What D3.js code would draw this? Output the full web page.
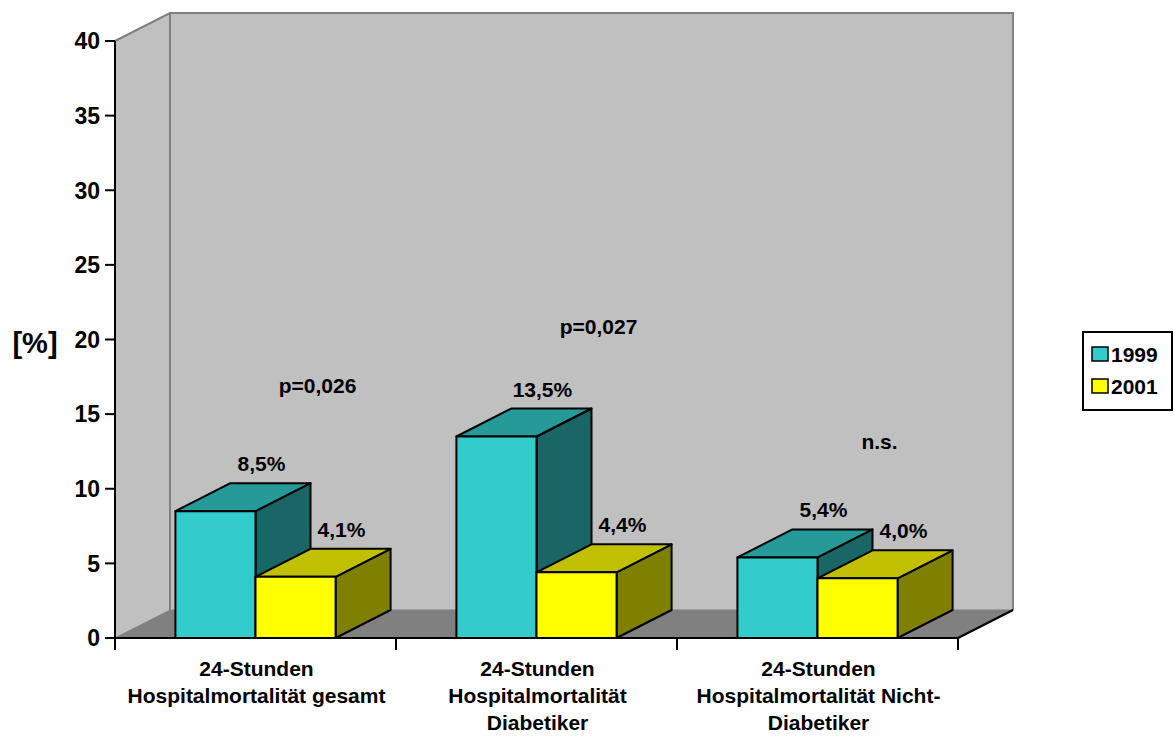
<!DOCTYPE html>
<html>
<head>
<meta charset="utf-8">
<script src="https://cdn.jsdelivr.net/npm/d3@7"></script>
<style>
  html, body { margin: 0; padding: 0; background: #ffffff; }
  svg { display: block; font-family: "Liberation Sans", Arial, sans-serif; }
</style>
</head>
<body>
<svg id="chart" width="1174" height="736"></svg>
<script>
// Categories (multi-line labels), series and values in percent
const categories = [
  ["24-Stunden", "Hospitalmortalität gesamt"],
  ["24-Stunden", "Hospitalmortalität", "Diabetiker"],
  ["24-Stunden", "Hospitalmortalität Nicht-", "Diabetiker"]
];
const series = ["1999", "2001"];
const values1999 = [8.5, 13.5, 5.4];
const values2001 = [4.1, 4.4, 4.0];
const yTicks = [0, 5, 10, 15, 20, 25, 30, 35, 40];
// Significance notes per category and the value-axis level they sit at
const pNotes = ["p=0,026", "p=0,027", "n.s."];
const pLevels = [16.4, 20.4, 12.65];

const seriesValues = [values1999, values2001];
const colors = {
  "1999": { front: "#33CCCC", top: "#269999", side: "#1A6666" },
  "2001": { front: "#FFFF00", top: "#C0C000", side: "#808000" }
};

const svg = d3.select("#chart");
const plotL = 115, plotR = 958, plotB = 638, plotT = 41;
const DX = 55, DY = -28; // depth offset of the 3D box

const y = d3.scaleLinear().domain([0, 40]).range([plotB, plotT]);
const x = d3.scaleBand().domain(d3.range(categories.length)).range([plotL, plotR]).padding(0);
const groupW = x.bandwidth() * 0.57;
const xs = d3.scaleBand().domain(series)
  .range([(x.bandwidth() - groupW) / 2, (x.bandwidth() + groupW) / 2]).padding(0);

const de = d3.formatLocale({ decimal: ",", thousands: ".", grouping: [3], currency: ["", " €"] });
const fmt = v => de.format(".1f")(v) + "%";
const pt = (px, py) => px + "," + py;

// Walls and floor
svg.append("polygon")
  .attr("points", [pt(plotL, y(0)), pt(plotL, y(40)), pt(plotL + DX, y(40) + DY), pt(plotL + DX, y(0) + DY)].join(" "))
  .attr("fill", "#C0C0C0");
svg.append("rect")
  .attr("x", plotL + DX).attr("y", y(40) + DY)
  .attr("width", plotR - plotL).attr("height", y(0) - y(40))
  .attr("fill", "#C0C0C0");
svg.append("polyline")
  .attr("points", [pt(plotL, y(40)), pt(plotL + DX, y(40) + DY), pt(plotR + DX, y(40) + DY), pt(plotR + DX, y(0) + DY)].join(" "))
  .attr("fill", "none").attr("stroke", "#808080").attr("stroke-width", 2);
svg.append("line")
  .attr("x1", plotL + DX).attr("y1", y(40) + DY).attr("x2", plotL + DX).attr("y2", y(0) + DY)
  .attr("stroke", "#808080").attr("stroke-width", 2);
svg.append("polygon")
  .attr("points", [pt(plotL, y(0)), pt(plotL + DX, y(0) + DY), pt(plotR + DX, y(0) + DY), pt(plotR, y(0))].join(" "))
  .attr("fill", "#808080").attr("stroke", "#808080").attr("stroke-width", 1);
svg.append("line")
  .attr("x1", plotR).attr("y1", y(0)).attr("x2", plotR + DX).attr("y2", y(0) + DY)
  .attr("stroke", "#000").attr("stroke-width", 2);

// 3D bars, drawn left to right so later fronts overlap earlier sides
const bars = [];
categories.forEach((c, i) => {
  series.forEach((s, j) => bars.push({ i, s, v: seriesValues[j][i] }));
});
const barG = svg.append("g");
bars.forEach(d => {
  const x0 = x(d.i) + xs(d.s), x1 = x0 + xs.bandwidth();
  const y0 = y(0), y1 = y(d.v);
  const g = barG.append("g").attr("stroke", "#000").attr("stroke-width", 2).attr("stroke-linejoin", "round");
  g.append("polygon").attr("fill", colors[d.s].side)
    .attr("points", [pt(x1, y0), pt(x1, y1), pt(x1 + DX, y1 + DY), pt(x1 + DX, y0 + DY)].join(" "));
  g.append("polygon").attr("fill", colors[d.s].top)
    .attr("points", [pt(x0, y1), pt(x0 + DX, y1 + DY), pt(x1 + DX, y1 + DY), pt(x1, y1)].join(" "));
  g.append("rect").attr("fill", colors[d.s].front)
    .attr("x", x0).attr("y", y1).attr("width", x1 - x0).attr("height", y0 - y1);
});

// Value labels
svg.append("g").selectAll("text").data(bars).join("text")
  .attr("x", d => x(d.i) + xs(d.s) + xs.bandwidth() / 2 + 46)
  .attr("y", d => y(d.v) - 40)
  .attr("text-anchor", "middle")
  .attr("font-weight", "bold").attr("font-size", 21)
  .text(d => fmt(d.v));

// Significance notes
svg.append("g").selectAll("text").data(pNotes).join("text")
  .attr("x", (d, i) => x(i) + x.bandwidth() / 2 + 62)
  .attr("y", (d, i) => y(pLevels[i]))
  .attr("text-anchor", "middle")
  .attr("font-weight", "bold").attr("font-size", 21)
  .text(d => d);

// Value axis
const yAxis = svg.append("g");
yAxis.append("line").attr("x1", plotL).attr("x2", plotL).attr("y1", y(0)).attr("y2", y(40))
  .attr("stroke", "#000").attr("stroke-width", 2);
yAxis.selectAll("line.tick").data(yTicks).join("line").attr("class", "tick")
  .attr("x1", plotL - 10).attr("x2", plotL).attr("y1", d => y(d)).attr("y2", d => y(d))
  .attr("stroke", "#000").attr("stroke-width", 2);
yAxis.selectAll("text").data(yTicks).join("text")
  .attr("x", plotL - 15).attr("y", d => y(d)).attr("dy", "0.36em")
  .attr("text-anchor", "end").attr("font-weight", "bold").attr("font-size", 23)
  .text(d => d);
svg.append("text").attr("x", 35).attr("y", 343).attr("dy", "0.36em")
  .attr("text-anchor", "middle").attr("font-weight", "bold").attr("font-size", 29)
  .text("[%]");

// Category axis
const xAxis = svg.append("g");
xAxis.append("line").attr("x1", plotL).attr("x2", plotR).attr("y1", y(0)).attr("y2", y(0))
  .attr("stroke", "#000").attr("stroke-width", 2);
const tickXs = d3.range(categories.length + 1).map(k => plotL + k * x.bandwidth());
xAxis.selectAll("line.tick").data(tickXs).join("line").attr("class", "tick")
  .attr("x1", d => d).attr("x2", d => d).attr("y1", y(0)).attr("y2", y(0) + 12)
  .attr("stroke", "#000").attr("stroke-width", 2);
const catText = xAxis.selectAll("text").data(categories).join("text")
  .attr("text-anchor", "middle")
  .attr("font-weight", "bold").attr("font-size", 21);
catText.each(function (lines, i) {
  d3.select(this).selectAll("tspan").data(lines).join("tspan")
    .attr("x", x(i) + x.bandwidth() / 2 + 1)
    .attr("y", (l, k) => 676 + k * 27)
    .text(l => l);
});

// Legend
const lg = svg.append("g");
lg.append("rect").attr("x", 1083).attr("y", 332).attr("width", 89).attr("height", 78)
  .attr("fill", "#fff").attr("stroke", "#000").attr("stroke-width", 2);
series.forEach((s, j) => {
  const cy = 354 + j * 32;
  lg.append("rect").attr("x", 1092).attr("y", cy - 7).attr("width", 16).attr("height", 14)
    .attr("fill", colors[s].front).attr("stroke", "#000").attr("stroke-width", 1.5);
  lg.append("text").attr("x", 1111).attr("y", cy).attr("dy", "0.36em")
    .attr("font-weight", "bold").attr("font-size", 21).text(s);
});
</script>
</body>
</html>
